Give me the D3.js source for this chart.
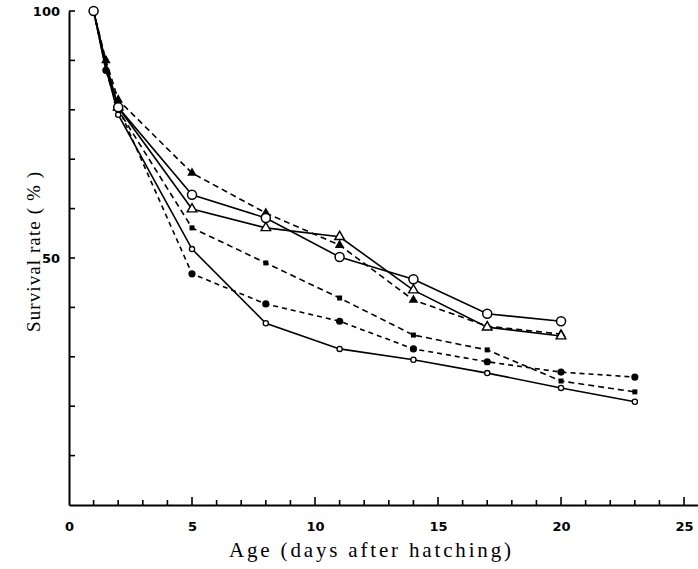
<!DOCTYPE html>
<html>
<head>
<meta charset="utf-8">
<script src="https://cdn.jsdelivr.net/npm/d3@7"></script>
<style>
  html, body { margin: 0; padding: 0; background: #fff; }
  svg { display: block; }
</style>
</head>
<body>
<svg id="chart" width="698" height="569"></svg>
<script>
// ---- data ----
const xTickLabels = [0, 5, 10, 15, 20, 25];
const yTickLabels = [100, 50];
const daysA = [1, 1.5, 2, 5, 8, 11, 14, 17, 20];
const daysB = [1, 1.5, 2, 5, 8, 11, 14, 17, 20, 23];
const openCircleVals   = [100, 89, 80.5, 62.8, 58.1, 50.2, 45.7, 38.7, 37.2];
const openTriangleVals = [100, 89.5, 80.5, 59.9, 56.1, 54.3, 43.5, 36.0, 34.2];
const fillTriangleVals = [100, 90, 82, 67.2, 59.1, 52.6, 41.5, 36.2, 34.6];
const smallFillVals    = [100, 88, 80, 56.1, 49.0, 41.9, 34.4, 31.4, 25.1, 22.9];
const fillCircleVals   = [100, 88, 80.5, 46.8, 40.7, 37.2, 31.6, 29.0, 26.9, 25.9];
const smallOpenVals    = [100, 88.5, 79, 51.8, 36.8, 31.6, 29.4, 26.7, 23.7, 20.9];

const series = [
  { days: daysA, vals: openCircleVals,   dash: null,  marker: "openCircle" },
  { days: daysA, vals: openTriangleVals, dash: null,  marker: "openTriangle" },
  { days: daysA, vals: fillTriangleVals, dash: "6,4", marker: "fillTriangle" },
  { days: daysB, vals: smallFillVals,    dash: "6,4", marker: "smallFill" },
  { days: daysB, vals: fillCircleVals,   dash: "5,4", marker: "fillCircle" },
  { days: daysB, vals: smallOpenVals,    dash: null,  marker: "smallOpen" }
];

const svg = d3.select("#chart");
const x = d3.scaleLinear().domain([0, 25.6]).range([69, 698.8]);
const y = d3.scaleLinear().domain([0, 100]).range([505, 11]);

// ---- axes (domain + labels) ----
const gx = svg.append("g").attr("transform", `translate(0,${y(0)})`)
  .call(d3.axisBottom(x).tickValues(xTickLabels).tickSize(0).tickPadding(17).tickFormat(d3.format("d")));
gx.select(".domain").attr("stroke", "#000").attr("stroke-width", 2);
gx.selectAll("text").attr("font-family", "DejaVu Sans, sans-serif").attr("font-weight", "bold")
  .attr("font-size", 13).attr("fill", "#000");

const gy = svg.append("g").attr("transform", `translate(${x(0)},0)`)
  .call(d3.axisLeft(y).tickValues(yTickLabels).tickSize(0).tickPadding(9));
gy.select(".domain").attr("stroke", "#000").attr("stroke-width", 2);
gy.selectAll("text").attr("font-family", "DejaVu Sans, sans-serif").attr("font-weight", "bold")
  .attr("font-size", 13).attr("fill", "#000");

// tick marks drawn inward
const xTicks = d3.range(1, 26);
svg.append("g").selectAll("line").data(xTicks).join("line")
  .attr("x1", d => x(d)).attr("x2", d => x(d))
  .attr("y1", y(0)).attr("y2", d => y(0) - (d % 5 === 0 ? 8 : 5))
  .attr("stroke", "#000").attr("stroke-width", 1.6);

const yTicks = d3.range(10, 101, 10);
svg.append("g").selectAll("line").data(yTicks).join("line")
  .attr("x1", x(0)).attr("x2", x(0) + 6)
  .attr("y1", d => y(d)).attr("y2", d => y(d))
  .attr("stroke", "#000").attr("stroke-width", 1.6);

// axis titles
svg.append("text")
  .attr("x", 370).attr("y", 557)
  .attr("text-anchor", "middle")
  .attr("font-family", "Liberation Serif, DejaVu Serif, serif")
  .attr("font-size", 21)
  .attr("textLength", 282).attr("lengthAdjust", "spacing")
  .text("Age (days after hatching)");

svg.append("text")
  .attr("transform", "translate(40,252) rotate(-90)")
  .attr("text-anchor", "middle")
  .attr("font-family", "Liberation Serif, DejaVu Serif, serif")
  .attr("font-size", 19)
  .attr("textLength", 160).attr("lengthAdjust", "spacing")
  .text("Survival rate ( % )");

// ---- lines ----
const line = d3.line().x(d => x(d[0])).y(d => y(d[1]));
series.forEach(s => {
  const pts = s.days.map((d, i) => [d, s.vals[i]]);
  svg.append("path").datum(pts)
    .attr("d", line)
    .attr("fill", "none")
    .attr("stroke", "#000")
    .attr("stroke-width", 1.6)
    .attr("stroke-dasharray", s.dash);
});

// ---- markers ----
const tri = d3.symbol().type(d3.symbolTriangle);
series.slice().reverse().forEach(s => {
  const pts = s.days.map((d, i) => [d, s.vals[i]])
    .filter(p => p[0] !== 1 && (p[0] !== 1.5 || s.marker.startsWith("fill") || s.marker === "smallFill"));
  const g = svg.append("g");
  pts.forEach(p => {
    const cx = x(p[0]), cy = y(p[1]);
    if (s.marker === "openCircle") {
      g.append("circle").attr("cx", cx).attr("cy", cy).attr("r", 4.5)
        .attr("fill", "#fff").attr("stroke", "#000").attr("stroke-width", 1.5);
    } else if (s.marker === "smallOpen") {
      g.append("circle").attr("cx", cx).attr("cy", cy).attr("r", 2.6)
        .attr("fill", "#fff").attr("stroke", "#000").attr("stroke-width", 1.3);
    } else if (s.marker === "fillCircle") {
      g.append("circle").attr("cx", cx).attr("cy", cy).attr("r", 3.6).attr("fill", "#000");
    } else if (s.marker === "smallFill") {
      g.append("rect").attr("x", cx - 2.5).attr("y", cy - 2.5).attr("width", 5).attr("height", 5)
        .attr("fill", "#000");
    } else if (s.marker === "openTriangle") {
      g.append("path").attr("transform", `translate(${cx},${cy})`).attr("d", tri.size(40)())
        .attr("fill", "#fff").attr("stroke", "#000").attr("stroke-width", 1.4);
    } else if (s.marker === "fillTriangle") {
      g.append("path").attr("transform", `translate(${cx},${cy})`).attr("d", tri.size(40)())
        .attr("fill", "#000");
    }
  });
});
// starting point (day 1, 100%)
svg.append("circle").attr("cx", x(daysA[0])).attr("cy", y(openCircleVals[0])).attr("r", 4.5)
  .attr("fill", "#fff").attr("stroke", "#000").attr("stroke-width", 1.5);
</script>
</body>
</html>
